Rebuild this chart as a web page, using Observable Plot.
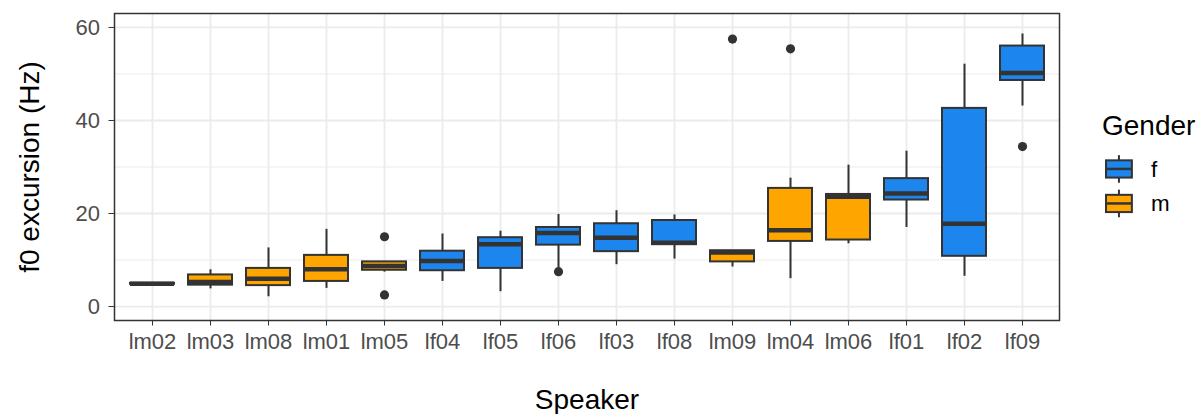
<!DOCTYPE html>
<html><head><meta charset="utf-8">
<script src="https://cdn.jsdelivr.net/npm/d3@7"></script>
<script src="https://cdn.jsdelivr.net/npm/@observablehq/plot@0.6"></script>
<style>
body{margin:0;background:#fff;}
#wrap{position:relative;width:1198px;height:414px;font-family:"Liberation Sans",Arial,sans-serif;}
</style></head><body><div id="wrap"></div>
<script>
// ---- data ----
const speakers = ["lm02","lm03","lm08","lm01","lm05","lf04","lf05","lf06","lf03","lf08","lm09","lm04","lm06","lf01","lf02","lf09"];
const genders  = ["m","m","m","m","m","f","f","f","f","f","m","m","m","f","f","f"];
const whiskerLow  = [4.7, 3.8, 2.1, 3.9, 7.4, 5.4, 3.2, 8.3, 9.0, 10.2, 8.5, 6.0, 13.5, 17.0, 6.5, 43.1];
const q1          = [4.8, 4.6, 4.5, 5.4, 7.8, 7.7, 8.2, 13.2, 11.8, 13.3, 9.6, 14.0, 14.3, 22.9, 10.8, 48.6];
const median      = [4.9, 5.3, 6.0, 8.0, 8.7, 9.8, 13.4, 15.8, 14.8, 13.7, 11.6, 16.4, 23.6, 24.3, 17.8, 50.2];
const q3          = [5.0, 6.8, 8.2, 11.0, 9.6, 11.9, 14.8, 17.0, 17.8, 18.5, 12.0, 25.4, 24.1, 27.5, 42.6, 56.0];
const whiskerHigh = [5.1, 7.9, 12.6, 16.6, 9.7, 15.6, 16.2, 19.8, 20.6, 19.7, 12.0, 27.6, 30.4, 33.4, 52.1, 58.6];
const outlierSpeaker = ["lm05","lm05","lf06","lm09","lm04","lf09"];
const outlierValue   = [15.0, 2.5, 7.5, 57.5, 55.4, 34.4];
const yTicks = [0, 20, 40, 60];
const yMinorTicks = [10, 30, 50];
const genderLevels = ["f", "m"];
const genderColors = ["#1C86EE", "#FFA500"];
const xTitle = "Speaker";
const yTitle = "f0 excursion (Hz)";
const legendTitle = "Gender";

const boxes = speakers.map((s, i) => ({speaker: s, gender: genders[i], lo: whiskerLow[i], q1: q1[i], med: median[i], q3: q3[i], hi: whiskerHigh[i]}));
const outliers = outlierSpeaker.map((s, i) => ({speaker: s, value: outlierValue[i]}));

const FONT = '"Liberation Sans", Arial, sans-serif';
const DARK = "#333333";
const GRID = "#EBEBEB";

const plot = Plot.plot({
  width: 1198, height: 414,
  marginLeft: 114, marginRight: 139, marginTop: 13, marginBottom: 94,
  style: {fontFamily: FONT, fontSize: "22px", color: DARK, background: "white", overflow: "visible"},
  x: {type: "band", domain: speakers, paddingInner: 0.25, paddingOuter: 0.225, align: 0.5, label: null, tickSize: 5.5, tickPadding: 7.5},
  y: {domain: [-3, 63], ticks: yTicks, label: null, tickSize: 5.5, tickPadding: 9, tickFormat: d => String(d)},
  color: {domain: genderLevels, range: genderColors},
  marks: [
    Plot.ruleY(yMinorTicks, {y: d => d, stroke: GRID, strokeWidth: 1}),
    Plot.ruleY(yTicks, {y: d => d, stroke: GRID, strokeWidth: 1.8}),
    Plot.ruleX(speakers, {x: d => d, stroke: GRID, strokeWidth: 1.8}),
    Plot.ruleX(boxes, {x: "speaker", y1: "lo", y2: "hi", stroke: DARK, strokeWidth: 2}),
    Plot.barY(boxes, {x: "speaker", y1: "q1", y2: "q3", fill: "gender", stroke: DARK, strokeWidth: 2}),
    Plot.tickY(boxes, {x: "speaker", y: "med", stroke: DARK, strokeWidth: 4.5}),
    Plot.dot(outliers, {x: "speaker", y: "value", r: 4.6, fill: DARK, stroke: "none"}),
    Plot.frame({stroke: DARK, strokeWidth: 1.5}),
    Plot.text([xTitle], {text: d => d, frameAnchor: "bottom", lineAnchor: "bottom", dy: 88, fontSize: 28, fill: "black"}),
    Plot.text([yTitle], {text: d => d, frameAnchor: "left", textAnchor: "middle", lineAnchor: "bottom", rotate: -90, dx: -76, fontSize: 28, fill: "black"})
  ]
});

plot.querySelectorAll('[aria-label^="x-axis"] text, [aria-label^="y-axis"] text').forEach(t => t.setAttribute("fill", "#4D4D4D"));

const wrap = document.getElementById("wrap");
wrap.appendChild(plot);

// ---- legend ----
const leg = d3.select(wrap).append("svg")
  .attr("width", 1198).attr("height", 414)
  .style("position", "absolute").style("left", "0").style("top", "0")
  .style("font-family", FONT);
leg.append("text").attr("x", 1102).attr("y", 135).attr("font-size", 28).attr("fill", "black").text(legendTitle);
const k = 34.5, keyX = 1101.7, keyY0 = 151.7;
genderLevels.forEach((g, i) => {
  const y0 = keyY0 + i * k, cx = keyX + k / 2;
  leg.append("line").attr("x1", cx).attr("x2", cx).attr("y1", y0 + 0.1 * k).attr("y2", y0 + 0.9 * k).attr("stroke", DARK).attr("stroke-width", 2);
  leg.append("rect").attr("x", keyX + 0.125 * k).attr("y", y0 + 0.25 * k).attr("width", 0.75 * k).attr("height", 0.5 * k)
    .attr("fill", genderColors[i]).attr("stroke", DARK).attr("stroke-width", 2);
  leg.append("line").attr("x1", keyX + 0.125 * k).attr("x2", keyX + 0.875 * k).attr("y1", y0 + k / 2).attr("y2", y0 + k / 2).attr("stroke", DARK).attr("stroke-width", 2.5);
  leg.append("text").attr("x", 1151).attr("y", y0 + k / 2).attr("dy", "0.35em").attr("font-size", 22.4).attr("fill", "black").text(g);
});
</script></body></html>
